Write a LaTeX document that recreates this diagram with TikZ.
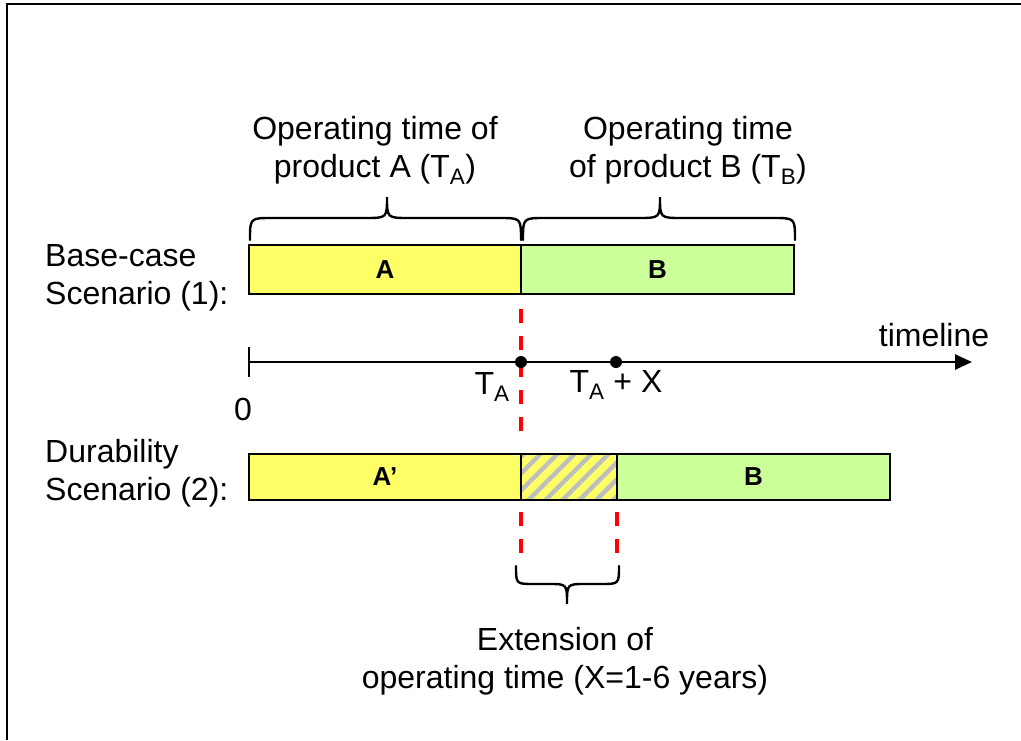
\documentclass[tikz,border=0pt]{standalone}
\usepackage{fontspec}
\setmainfont{Liberation Sans}
\usetikzlibrary{arrows.meta,patterns.meta}
\definecolor{yel}{HTML}{FFFF66}
\definecolor{grn}{HTML}{CCFF99}
\definecolor{hatchgray}{HTML}{BEBEBE}
\definecolor{dashred}{HTML}{FF0000}
\tikzset{
  bar/.style={draw=black, line width=2.6pt, inner sep=0pt, outer sep=0pt, anchor=north west, font=\fontsize{26}{30}\selectfont\bfseries},
  lbl/.style={inner sep=0pt, font=\fontsize{32}{38}\selectfont},
  br/.style={line width=2.4pt, line cap=round},
  reddash/.style={draw=dashred, line width=3.6pt, dash pattern=on 14pt off 13pt},
  dot/.style={circle, fill=black, inner sep=0pt, minimum size=12pt},
  axis/.style={line width=2.6pt}
}
\begin{document}
\begin{tikzpicture}[x=1pt,y=-1pt]
\useasboundingbox (0,0) rectangle (1021,740);
% frame
\draw[line width=2.6pt] (7,740) -- (7,4) -- (1021,4);

% labels above
\node[lbl, align=center] (opA) at (375,150) {Operating time of\\product A (T\textsubscript{A})};
\node[lbl, align=center] (opB) at (688,150) {Operating time\\of product B (T\textsubscript{B})};

% braces
\draw[br] (250,240) .. controls (250,218) .. (272,218) -- (365,218) .. controls (387,218) .. (387,197) .. controls (387,218) .. (409,218) -- (499,218) .. controls (521,218) .. (521,240);
\draw[br] (523,240) .. controls (523,218) .. (545,218) -- (638,218) .. controls (660,218) .. (660,197) .. controls (660,218) .. (682,218) -- (773,218) .. controls (795,218) .. (795,240);

% scenario labels
\node[lbl, anchor=west, align=left] (s1) at (45,278) {Base-case\\Scenario (1):};
\node[lbl, anchor=west, align=left] (s2) at (45,473) {Durability\\Scenario (2):};

% bars scenario 1
\node[bar, fill=yel, minimum width=272pt, minimum height=49pt] (barA) at (249,245) {A};
\node[bar, fill=grn, minimum width=273pt, minimum height=49pt] (barB) at (521,245) {B};

% bars scenario 2
\node[bar, fill=yel, minimum width=272pt, minimum height=46pt] (barA2) at (249,454) {A'};
\node[bar, fill=yel, minimum width=96pt, minimum height=46pt, postaction={pattern={Lines[angle=45,distance=12pt,line width=4.5pt]}, pattern color=hatchgray}] (barX) at (521,454) {};
\node[bar, draw=black, line width=2.6pt, minimum width=96pt, minimum height=46pt] at (521,454) {};
\node[bar, fill=grn, minimum width=273pt, minimum height=46pt] (barB2) at (617,454) {B};

% timeline
\coordinate (t0) at (249,362);
\coordinate (tend) at (972,362);
\coordinate (tickT) at (249,347);
\coordinate (tickB) at (249,377);
\draw[axis, -{Triangle[length=17pt,width=15pt]}] (t0) -- (tend);
\draw[axis] (tickT) -- (tickB);
\node[lbl] (tl) at (934,335) {timeline};
\node[lbl] (zero) at (243,409) {0};

% red dashed lines
\coordinate (d0) at (521,440);
\coordinate (d1) at (521,556);
\coordinate (d2) at (617,556);
\draw[reddash, shorten <=15pt] (barA.south east) -- (barA.south east |- d0);
\draw[reddash, shorten <=12pt] (barA2.south east) -- (barA2.south east |- d1);
\draw[reddash, shorten <=12pt] (barX.south east) -- (barX.south east |- d2);

% dots
\node[dot] (ta) at (521,362) {};
\node[dot] (tax) at (616,362) {};
\node[lbl] (talbl) at (492,387) {T\textsubscript{A}};
\node[lbl] (taxlbl) at (616,385) {T\textsubscript{A} + X};

% bottom brace
\draw[br] (516,566) .. controls (516,584) .. (534,584) -- (549,584) .. controls (567,584) .. (567,604) .. controls (567,584) .. (585,584) -- (601,584) .. controls (619,584) .. (619,566);

\node[lbl, align=center] (ext) at (565,661) {Extension of\\operating time (X=1-6 years)};
\end{tikzpicture}
\end{document}
